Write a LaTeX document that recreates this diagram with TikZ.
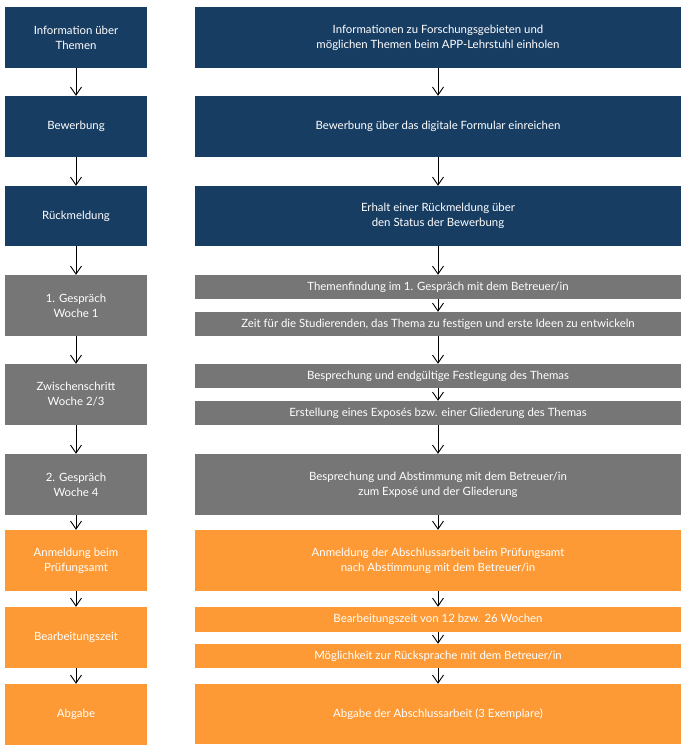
\documentclass[tikz,border=0pt]{standalone}
\usepackage{fontspec}
\setmainfont{Lato}
\usetikzlibrary{arrows.meta}
\definecolor{dblue}{RGB}{24,61,99}
\definecolor{dgray}{RGB}{118,118,118}
\definecolor{dorange}{RGB}{253,154,53}
\tikzset{
  box/.style={rectangle, inner sep=0pt, text=white, align=center, font=\fontsize{11.4}{15}\selectfont},
  lbox/.style={box, minimum width=142pt},
  rbox/.style={box, minimum width=486pt},
  blue/.style={fill=dblue},
  gray/.style={fill=dgray},
  orange/.style={fill=dorange},
  conn/.style={-{Straight Barb[length=8pt,width=11pt]}, line width=0.9pt, black}
}
\begin{document}
\begin{tikzpicture}[x=1pt,y=-1pt]
\useasboundingbox (0,0) rectangle (685,751);
% left column
\node[lbox,blue,minimum height=61pt] (l1) at (76,37.5) {Information über\\Themen};
\node[lbox,blue,minimum height=61pt] (l2) at (76,126.5) {Bewerbung};
\node[lbox,blue,minimum height=60pt] (l3) at (76,216) {Rückmeldung};
\node[lbox,gray,minimum height=61pt] (l4) at (76,305.5) {1. Gespräch\\Woche 1};
\node[lbox,gray,minimum height=61pt] (l5) at (76,394.5) {Zwischenschritt\\Woche 2/3};
\node[lbox,gray,minimum height=61pt] (l6) at (76,484.5) {2. Gespräch\\Woche 4};
\node[lbox,orange,minimum height=61pt] (l7) at (76,560.5) {Anmeldung beim\\Prüfungsamt};
\node[lbox,orange,minimum height=61pt] (l8) at (76,637.5) {Bearbeitungszeit};
\node[lbox,orange,minimum height=61pt] (l9) at (76,714.5) {Abgabe};
% right column
\node[rbox,blue,minimum height=61pt] (r1) at (438,37.5) {Informationen zu Forschungsgebieten und\\möglichen Themen beim APP-Lehrstuhl einholen};
\node[rbox,blue,minimum height=61pt] (r2) at (438,126.5) {Bewerbung über das digitale Formular einreichen};
\node[rbox,blue,minimum height=60pt] (r3) at (438,216) {Erhalt einer Rückmeldung über\\den Status der Bewerbung};
\node[rbox,gray,minimum height=24pt] (r4a) at (438,287) {Themenfindung im 1. Gespräch mit dem Betreuer/in};
\node[rbox,gray,minimum height=24pt] (r4b) at (438,324) {Zeit für die Studierenden, das Thema zu festigen und erste Ideen zu entwickeln};
\node[rbox,gray,minimum height=24pt] (r5a) at (438,376) {Besprechung und endgültige Festlegung des Themas};
\node[rbox,gray,minimum height=24pt] (r5b) at (438,413) {Erstellung eines Exposés bzw. einer Gliederung des Themas};
\node[rbox,gray,minimum height=61pt] (r6) at (438,484.5) {Besprechung und Abstimmung mit dem Betreuer/in\\zum Exposé und der Gliederung};
\node[rbox,orange,minimum height=61pt] (r7) at (438,560.5) {Anmeldung der Abschlussarbeit beim Prüfungsamt\\nach Abstimmung mit dem Betreuer/in};
\node[rbox,orange,minimum height=25pt] (r8a) at (438,619.5) {Bearbeitungszeit von 12 bzw. 26 Wochen};
\node[rbox,orange,minimum height=24pt] (r8b) at (438,656) {Möglichkeit zur Rücksprache mit dem Betreuer/in};
\node[rbox,orange,minimum height=60pt] (r9) at (438,714) {Abgabe der Abschlussarbeit (3 Exemplare)};
% connectors left
\foreach \a/\b in {l1/l2,l2/l3,l3/l4,l4/l5,l5/l6,l6/l7,l7/l8,l8/l9}
  \draw[conn] (\a.south) -- (\b.north);
% connectors right
\foreach \a/\b in {r1/r2,r2/r3,r3/r4a,r4a/r4b,r4b/r5a,r5a/r5b,r5b/r6,r6/r7,r7/r8a,r8a/r8b,r8b/r9}
  \draw[conn] (\a.south) -- (\b.north);
\end{tikzpicture}
\end{document}
